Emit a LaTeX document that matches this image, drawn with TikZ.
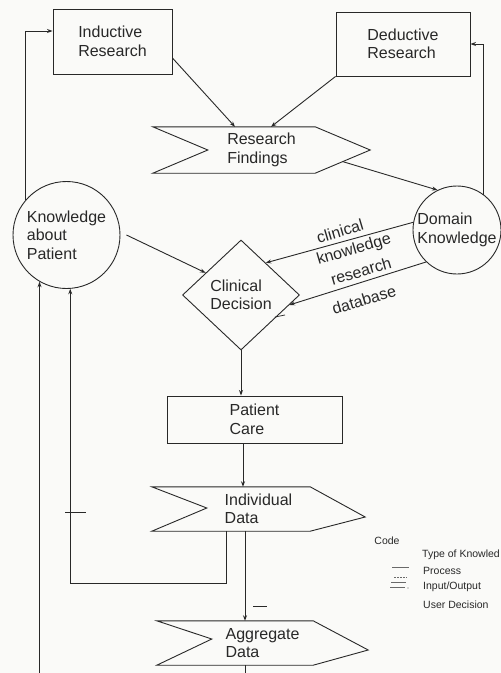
\documentclass[tikz,border=0pt]{standalone}
\usepackage{fontspec}
\setmainfont{Liberation Sans}
\usetikzlibrary{shapes.geometric,arrows.meta,calc}
\definecolor{ink}{RGB}{40,40,40}
\definecolor{paper}{RGB}{250,250,248}
\newcommand\iochev[3]{%
  \draw[ln] (#1.north west) -- ($(#1.west)+(55,#3)$) -- (#1.south west)
    -- ($(#1.south east)+(-55,0)$) -- ($(#1.east)+(0,#2)$)
    -- ($(#1.north east)+(-55,0)$) -- cycle;}
\begin{document}
\begin{tikzpicture}[x=1pt,y=-1pt,
  ln/.style={draw=ink, line width=0.9pt},
  arr/.style={ln, -{Stealth[length=5.5pt,width=4pt]}},
  txt/.style={text=ink, font=\fontsize{16}{18.5}\selectfont, align=left, inner sep=0pt},
  box/.style={txt, ln, rectangle},
  blob/.style={txt, ln, circle},
  io/.style={txt, rectangle},
  dec/.style={txt, ln, diamond},
  lbl/.style={text=ink, font=\fontsize{16}{18}\selectfont, inner sep=0pt, rotate=16.5},
  key/.style={text=ink, font=\fontsize{10.5}{12}\selectfont, inner sep=0pt, anchor=west},
  tick/.style={draw=ink, line width=0.7pt}]
\fill[paper] (0,0) rectangle (501,673);
\useasboundingbox (0,0) rectangle (501,673);

% nodes
\node[box, minimum width=119pt, minimum height=65pt] (ir) at (112.5,41.5) {Inductive\\Research};
\node[box, minimum width=134pt, minimum height=64pt] (dr) at (403,44) {Deductive\\Research};
\node[io, minimum width=217pt, minimum height=46pt] (rf) at (261.5,150) {Research\\Findings};
\iochev{rf}{0}{0}
\node[blob, minimum size=107pt] (kp) at (66.5,235) {Knowledge\\about\\Patient};
\node[blob, minimum size=88pt] (dk) at (457,230) {Domain\\Knowledge};
\node[dec, minimum width=117pt, minimum height=110pt] (cd) at (241,295) {Clinical\\Decision};
\node[box, minimum width=175pt, minimum height=47pt] (pc) at (254.5,419.5) {Patient\\Care};
\node[io, minimum width=213pt, minimum height=44pt] (id) at (258.5,509) {Individual\\Data};
\iochev{id}{8}{-1}
\node[io, minimum width=211pt, minimum height=44pt] (ad) at (262.5,643) {Aggregate\\Data};
\iochev{ad}{7}{-4}

% connectors
\draw[arr] ($(ir.east)+(0,16.5)$) -- ($(rf.north)+(-26.5,0)$);
\draw[arr] (dr.south west) -- ($(rf.north)+(9.5,0)$);
\coordinate (rfo) at ($(rf.east)!0.5!($(rf.south east)+(-55,0)$)$);
\draw[arr] (rfo) -- (dk.116);
\draw[arr] (dk.170) -- ($(cd.north)!0.42!(cd.east)$);
\draw[arr] (dk.226) -- ($(cd.east)!0.18!(cd.south)$);
\draw[arr] ($(kp.east)+(6,0)$) -- ($(cd.west)!0.4!(cd.north)$);
\draw[arr] (kp.139) |- ($(ir.west)+(0,-10.5)$);
\draw[arr] (dk.53) |- (dr.east);
\draw[arr] (cd.south) -- (cd.south |- pc.north);
\coordinate (pcb) at ($(pc.south)+(-11.5,0)$);
\draw[arr] (pcb) -- (pcb |- id.north);
\coordinate (idb) at ($(id.south)+(-13.5,0)$);
\draw[arr] (idb) -- (idb |- ad.north);
\coordinate (idl) at ($(id.south west)+(75,0)$);
\draw[arr] (idl) -- ++(0,52) -| (kp.274);
\coordinate (bl) at (kp.240 |- 0,673);
\draw[arr] (bl) -- (kp.240);
\coordinate (ab) at ($(ad.south)+(-17.5,0)$);
\coordinate (abe) at (ab |- 0,673);
\draw[ln] (ab) -- (abe);

% edge labels
\node[lbl] (l1) at (340,231) {clinical};
\node[lbl] (l2) at (354,250) {knowledge};
\node[lbl] (l3) at (361,271) {research};
\node[lbl] (l4) at (364,300) {database};

% stray ticks
\draw[tick] (275,317) -- (285,315);
\draw[tick] (65,512) -- (86,512);
\draw[tick] (253,606) -- (267,606);

% legend
\node[key, anchor=center] (kc) at (387,541) {Code};
\node[key] (kt) at (422,555) {Type of Knowled};
\node[key] (kpr) at (423,571) {Process};
\node[key] (kio) at (423,587) {Input/Output};
\node[key] (kud) at (423,605) {User Decision};
\draw[ink!70, line width=0.5pt] (392,567.5) -- (409,567.5);
\draw[ink!70, line width=0.5pt, dash pattern=on 2pt off 1pt] (394,577) -- (407,577);
\draw[ink!70, line width=0.5pt] (391,582.5) -- (406,582.5);
\draw[ink!70, line width=0.5pt] (390,587) -- (405,587);
\fill[ink!70] (408,588) circle (0.6pt);
\end{tikzpicture}
\end{document}
